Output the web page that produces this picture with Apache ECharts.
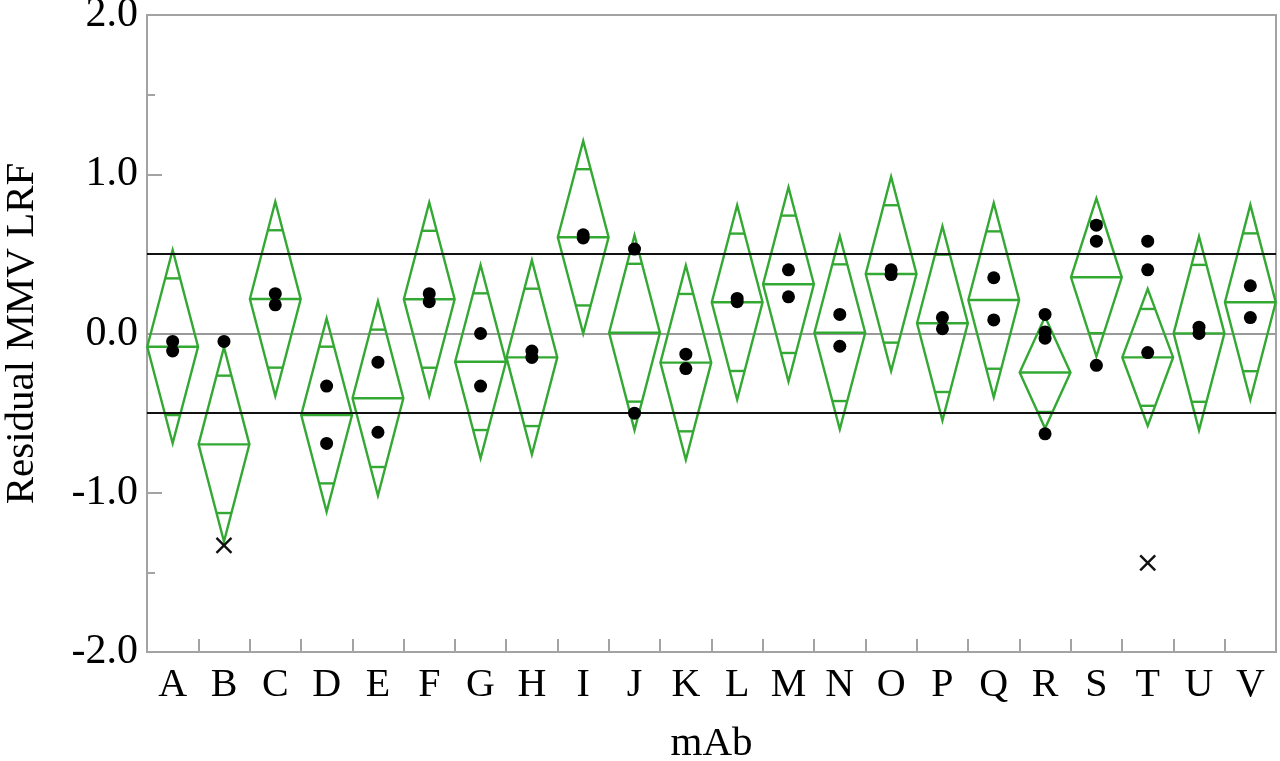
<!DOCTYPE html>
<html>
<head>
<meta charset="utf-8">
<script src="https://cdn.jsdelivr.net/npm/echarts@6/dist/echarts.min.js"></script>
<style>
html,body{margin:0;padding:0;background:#fff;}
#chart{width:1280px;height:761px;}
</style>
</head>
<body>
<div id="chart"></div>
<script>
// ---- data ----
var categories = ['A','B','C','D','E','F','G','H','I','J','K','L','M','N','O','P','Q','R','S','T','U','V'];
var means  = [-0.083,-0.696,0.217,-0.512,-0.407,0.215,-0.177,-0.150,0.604,0.005,-0.183,0.196,0.309,0.005,0.374,0.064,0.210,-0.245,0.353,-0.150,0.001,0.196];
var ciHalf = [0.607,0.610,0.610,0.607,0.610,0.608,0.607,0.610,0.605,0.612,0.610,0.610,0.610,0.607,0.610,0.610,0.610,0.350,0.496,0.430,0.608,0.612];
var dotValues = [
  [-0.05,-0.11], [-0.05], [0.25,0.18], [-0.33,-0.69], [-0.18,-0.62],
  [0.25,0.20], [0.00,-0.33], [-0.11,-0.15], [0.62,0.60], [0.53,-0.50],
  [-0.13,-0.22], [0.22,0.20], [0.40,0.23], [0.12,-0.08], [0.40,0.37],
  [0.10,0.03], [0.35,0.085], [0.12,0.01,-0.03,-0.63], [0.68,0.58,-0.20],
  [0.58,0.40,-0.12], [0.04,0.00], [0.30,0.10]
];
var xMarkCats = ['B','T'];
var xMarkValues = [-1.33,-1.44];
var refLines = [0.5,-0.5];
var yTicks = [-2.0,-1.0,0.0,1.0,2.0];

// ---- build library data ----
var diamondData = categories.map(function(c,i){ return [i, means[i], ciHalf[i]]; });
var dotData = [];
dotValues.forEach(function(arr,i){ arr.forEach(function(v){ dotData.push([i, v]); }); });
var xData = xMarkCats.map(function(c,k){ return [categories.indexOf(c), xMarkValues[k]]; });

var GREEN = '#33a833';
var AXIS = '#a3a3a3';
var FONT = 'Liberation Serif';

function renderDiamond(params, api){
  var idx = api.value(0), m = api.value(1), ci = api.value(2);
  var c = api.coord([idx, m]);
  var top = api.coord([idx, m + ci]);
  var bot = api.coord([idx, m - ci]);
  var w = api.size([1,0])[0] * 0.495;
  var o = ci / Math.SQRT2;
  var ot = api.coord([idx, m + o])[1];
  var ob = api.coord([idx, m - o])[1];
  var ow = w * (1 - 1/Math.SQRT2);
  var st = {stroke: GREEN, lineWidth: 2.4, fill: null, lineJoin:'miter'};
  return {type:'group', children:[
    {type:'polygon', shape:{points:[[c[0]-w,c[1]],[c[0],top[1]],[c[0]+w,c[1]],[c[0],bot[1]]]}, style:st},
    {type:'line', shape:{x1:c[0]-w,y1:c[1],x2:c[0]+w,y2:c[1]}, style:st},
    {type:'line', shape:{x1:c[0]-ow,y1:ot,x2:c[0]+ow,y2:ot}, style:st},
    {type:'line', shape:{x1:c[0]-ow,y1:ob,x2:c[0]+ow,y2:ob}, style:st}
  ]};
}
function renderX(params, api){
  var p = api.coord([api.value(0), api.value(1)]);
  var s = 7.5;
  var st = {stroke:'#111', lineWidth:2.4};
  return {type:'group', children:[
    {type:'line', shape:{x1:p[0]-s,y1:p[1]-s,x2:p[0]+s,y2:p[1]+s}, style:st},
    {type:'line', shape:{x1:p[0]-s,y1:p[1]+s,x2:p[0]+s,y2:p[1]-s}, style:st}
  ]};
}

var chart = echarts.init(document.getElementById('chart'));
chart.setOption({
  animation:false,
  backgroundColor:'#fff',
  grid:{left:147, right:4, top:15, bottom:109, outerBoundsMode:'none', containLabel:false,
        show:true, borderColor:AXIS, borderWidth:2, backgroundColor:'#fff'},
  xAxis:{
    type:'category', data:categories, boundaryGap:true,
    name:'mAb', nameLocation:'middle', nameGap:72,
    nameTextStyle:{fontFamily:FONT, fontSize:41, color:'#000'},
    axisLine:{show:true, onZero:false, lineStyle:{color:AXIS, width:2}},
    axisTick:{show:true, inside:true, length:13, interval:0, lineStyle:{color:AXIS, width:2}},
    axisLabel:{interval:0, margin:13, fontFamily:FONT, fontSize:40, color:'#000'},
    splitLine:{show:false}
  },
  yAxis:{
    type:'value', min:yTicks[0], max:yTicks[yTicks.length-1], interval:1,
    name:'Residual MMV LRF', nameLocation:'middle', nameGap:104, nameRotate:90,
    nameTextStyle:{fontFamily:FONT, fontSize:41, color:'#000'},
    axisLine:{show:true, lineStyle:{color:AXIS, width:2}},
    axisTick:{show:true, inside:true, length:15, lineStyle:{color:AXIS, width:2}},
    minorTick:{show:true, splitNumber:2, length:8, lineStyle:{color:AXIS, width:2}},
    axisLabel:{margin:9, fontFamily:FONT, fontSize:42, color:'#000', formatter:function(v){return v.toFixed(1);}},
    splitLine:{show:false}
  },
  series:[
    {
      type:'custom', renderItem:renderDiamond, data:diamondData, z:2, silent:true,
      encode:{x:0, y:1},
      markLine:{
        silent:true, symbol:['none','none'], label:{show:false}, z:1,
        data:[{yAxis:0, lineStyle:{color:'#9a9a9a', width:2, type:'solid'}}]
      }
    },
    {
      type:'scatter', data:dotData, symbol:'circle', symbolSize:13, z:5, silent:true,
      itemStyle:{color:'#000', opacity:1},
      markLine:{
        silent:true, symbol:['none','none'], label:{show:false},
        lineStyle:{color:'#111', width:2, type:'solid', opacity:1},
        data: refLines.map(function(v){ return {yAxis:v}; })
      }
    },
    {
      type:'custom', renderItem:renderX, data:xData, z:5, silent:true, encode:{x:0, y:1}
    }
  ]
});
</script>
</body>
</html>
